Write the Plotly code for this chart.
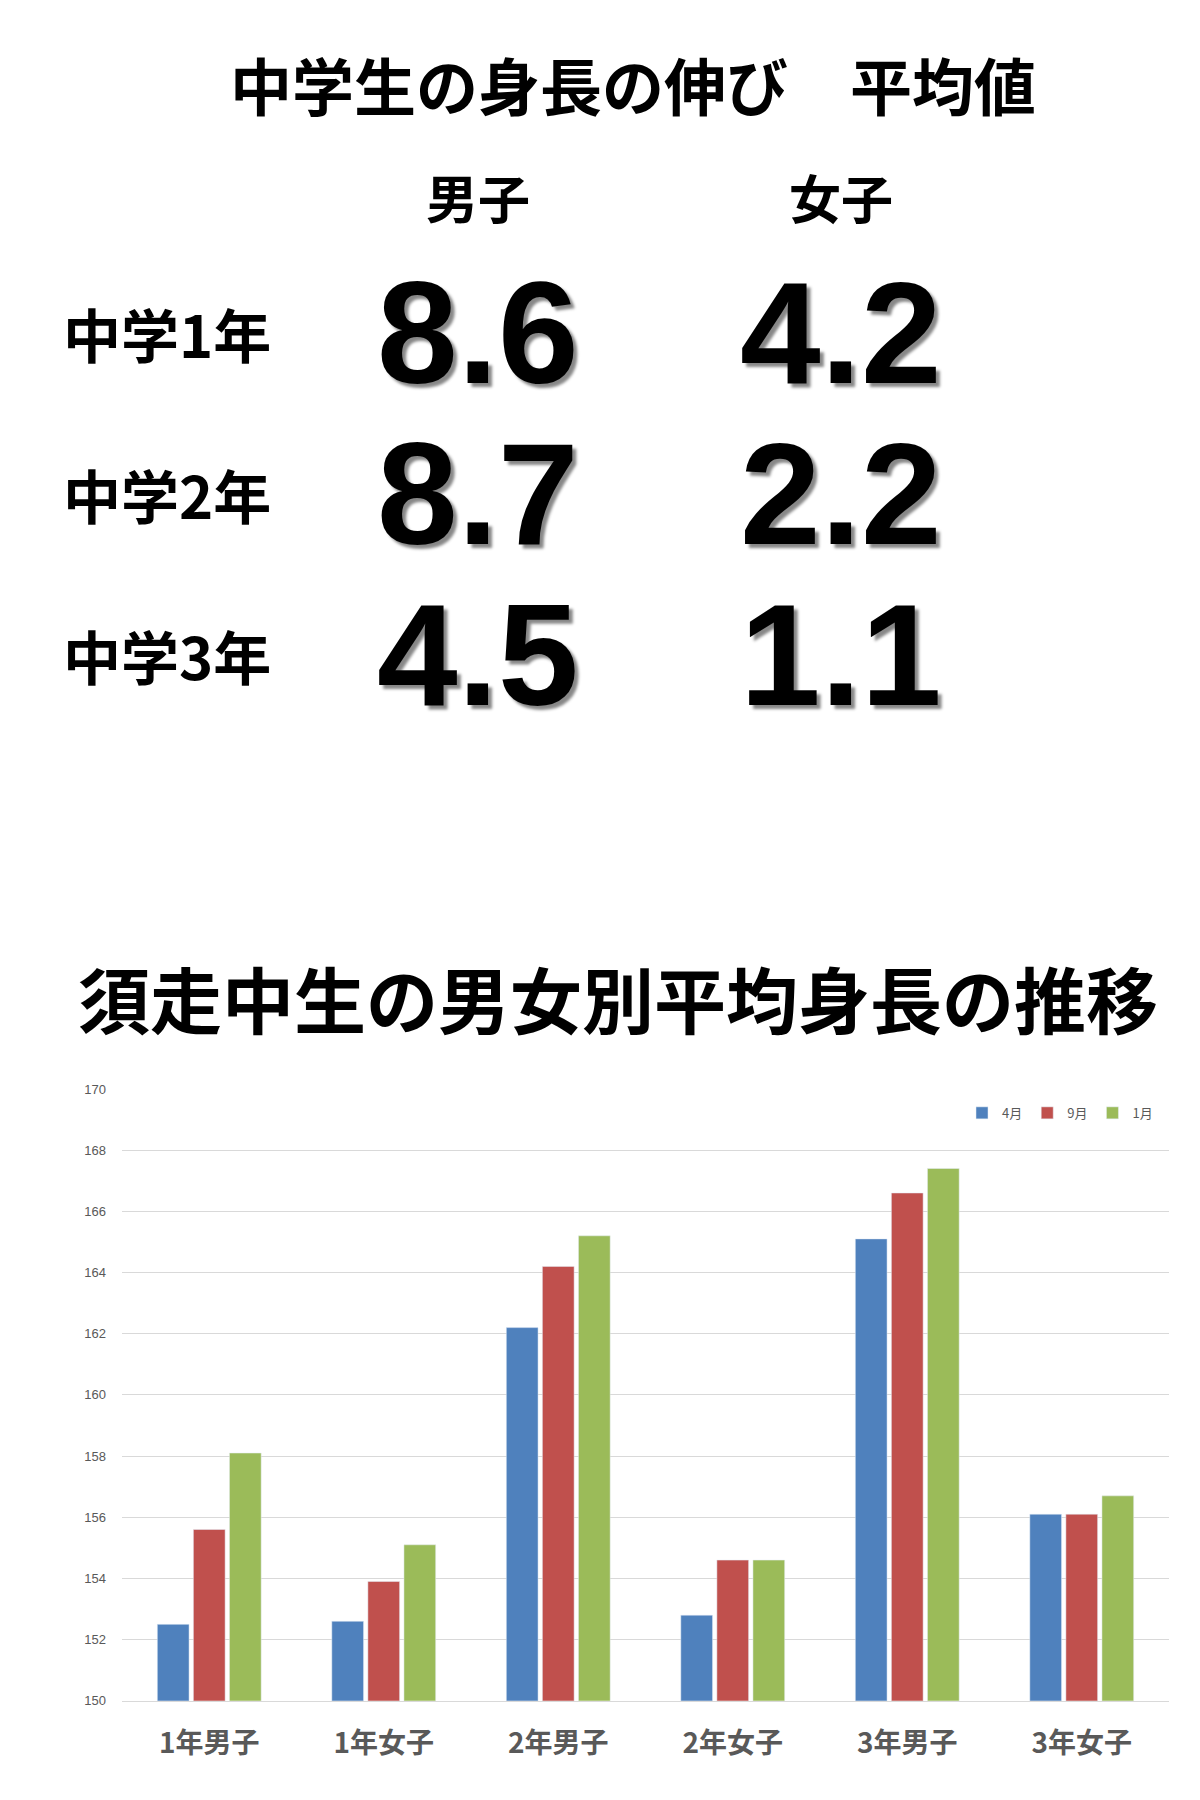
import plotly.graph_objects as go

categories = ["1年男子", "1年女子", "2年男子", "2年女子", "3年男子", "3年女子"]
series_names = ["4月", "9月", "1月"]
apr = [152.5, 152.6, 162.2, 152.8, 165.1, 156.1]
sep = [155.6, 153.9, 164.2, 154.6, 166.6, 156.1]
jan = [158.1, 155.1, 165.2, 154.6, 167.4, 156.7]
colors = ["#4F81BD", "#C0504D", "#9BBB59"]

row_labels = ["中学1年", "中学2年", "中学3年"]
col_labels = ["男子", "女子"]
boys_growth = ["8.6", "8.7", "4.5"]
girls_growth = ["4.2", "2.2", "1.1"]

W, H = 1200, 1800
fig = go.Figure()
for name, vals, c in zip(series_names, [apr, sep, jan], colors):
    fig.add_trace(go.Bar(x=categories, y=vals, name=name, marker_color=c))

def px(x): return x / W
def py(y): return 1 - y / H

jp = "Noto Sans CJK JP"
ann = []
ann.append(dict(x=px(625), y=py(70), text="<b>中学生の身長の伸び　平均値</b>", font=dict(family=jp, size=62, color="#000")))
for t, x in zip(col_labels, [470, 833]):
    ann.append(dict(x=px(x), y=py(183), text=f"<b>{t}</b>", font=dict(family=jp, size=52, color="#000")))
rows_y = [321, 483, 645]
for lab, b, g, y in zip(row_labels, boys_growth, girls_growth, rows_y):
    ann.append(dict(x=px(159), y=py(y), text=f"<b>{lab}</b>", font=dict(family=jp, size=58, color="#000")))
    for v, x in [(b, 470), (g, 833)]:
        ann.append(dict(x=px(x), y=py(y), text=f"<b>{v}</b>",
                        font=dict(family="Liberation Sans", size=145, color="#000", shadow="4px 4px 3px #888")))
ann.append(dict(x=px(610), y=py(990), text="<b>須走中生の男女別平均身長の推移</b>", font=dict(family=jp, size=72, color="#000")))
for a in ann:
    a.update(xref="paper", yref="paper", showarrow=False, xanchor="center", yanchor="middle")

fig.update_layout(
    width=W, height=H, margin=dict(l=0, r=0, t=0, b=0),
    paper_bgcolor="white", plot_bgcolor="white",
    annotations=ann, barmode="group", bargap=0.38, bargroupgap=0.12,
    xaxis=dict(domain=[114 / W, 1161 / W], tickfont=dict(family=jp, size=28, color="#595959", weight="bold"),
               ticklabelstandoff=18, showline=True, linecolor="#d9d9d9"),
    yaxis=dict(domain=[1 - 1700 / H, 1 - 1083 / H], range=[150, 170], dtick=2,
               gridcolor="#d9d9d9", tickfont=dict(family="Liberation Sans Narrow, Liberation Sans", size=13, color="#595959"),
               ticklabelstandoff=15),
    legend=dict(orientation="h", x=1150 / W, xanchor="right", y=1 - 1092 / H, yanchor="top",
                font=dict(family=jp, size=13, color="#595959"), itemwidth=30),
    showlegend=True,
)
fig.write_html("out.html")
